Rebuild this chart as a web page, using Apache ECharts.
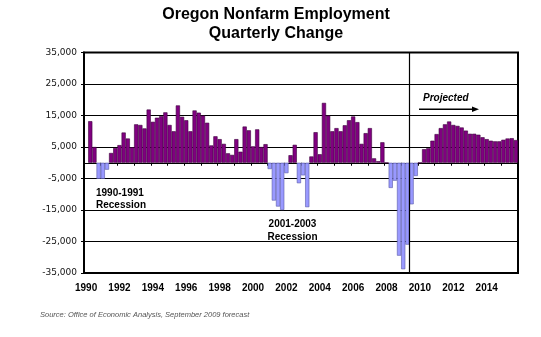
<!DOCTYPE html>
<html><head><meta charset="utf-8">
<script src="https://cdn.jsdelivr.net/npm/echarts@6/dist/echarts.min.js"></script>
<style>html,body{margin:0;padding:0;background:#fff}#c{width:541px;height:337px}</style>
</head><body><div id="c"></div>
<script>
// Categories: quarters 1990 Q1 .. 2015 Q4
const years = [1990,1991,1992,1993,1994,1995,1996,1997,1998,1999,2000,2001,2002,
               2003,2004,2005,2006,2007,2008,2009,2010,2011,2012,2013,2014,2015];
const quarters = ['Q1','Q2','Q3','Q4'];
const categories = [];
years.forEach(y => quarters.forEach(q => categories.push(y + ' ' + q)));

// Quarterly change in nonfarm employment (jobs)
const change1990s = [null,13200,5000,-5100, -5100,-2200,3100,4700, 5600,9600,7700,4900,
  12200,12000,10900,16900, 13000,14300,14800,16000, 12000,10000,18200,14600,
  13500,10000,16600,15900, 15000,12700,5500,8400, 7500,6000,3000,2500, 7500,3500,11500,10300];
const change2000s = [5200,10600,5000,5900, -2000,-12000,-13900,-15000, -3300,2400,5700,-6500,
  -4000,-14100,2000,9700, 2700,19000,15000,10000, 11000,10000,11900,13500,
  14700,12900,6000,9400, 11000,1400,500,6500, 0,-8000,-5700,-29500, -33800,-26000,-13200,-4200];
const change2010s = [0,4300,4600,7000, 9100,11000,12200,13100, 12000,11700,11200,10200,
  9200,9200,8900,8100, 7500,7000,6800,6800, 7300,7700,7800,7200];
const values = change1990s.concat(change2000s, change2010s);

const forecastStart = '2009 Q3';
const yMin = -35000, yMax = 35000, yStep = 10000;

const posColor = '#800080', posBorder = '#3d003d';
const negColor = '#9999ff', negBorder = '#5a5aa8';

const forecastIdx = categories.indexOf(forecastStart);

const chart = echarts.init(document.getElementById('c'), null, {renderer: 'canvas'});
chart.setOption({
  animation: false,
  backgroundColor: '#fff',
  grid: {left: 84, right: 23, top: 52.5, bottom: 64, show: true, borderColor: '#000', borderWidth: 2, backgroundColor: 'transparent'},
  xAxis: [{
    type: 'category', data: categories, position: 'bottom', boundaryGap: true,
    axisLine: {show: false, onZero: false},
    axisTick: {show: false},
    axisLabel: {interval: 7, margin: 10, color: '#000', fontFamily: 'Liberation Sans', fontWeight: 'bold', fontSize: 10,
      formatter: v => v.slice(0, 4)},
    splitLine: {show: false}
  }, {
    type: 'value', min: 0, max: categories.length, interval: 4, position: 'top',
    axisLine: {show: true, onZero: true, lineStyle: {color: '#000', width: 1}},
    axisTick: {show: true, inside: true, length: 3, lineStyle: {color: '#000', width: 1}},
    axisLabel: {show: false},
    splitLine: {show: false}
  }],
  yAxis: {
    type: 'value', min: yMin, max: yMax, interval: yStep,
    axisLine: {show: true, onZero: false, lineStyle: {color: '#000', width: 2}},
    axisTick: {show: true, length: 3, lineStyle: {color: '#000', width: 1}},
    axisLabel: {margin: 7, color: '#111', fontFamily: 'DejaVu Sans', fontSize: 9,
      formatter: v => v.toLocaleString('en-US')},
    splitLine: {show: true, lineStyle: {color: '#000', width: 1}}
  },
  series: [{
    type: 'bar', xAxisIndex: 0, barCategoryGap: '0%',
    data: values.map(v => v === null ? null : {
      value: v,
      itemStyle: {color: v < 0 ? negColor : posColor, borderColor: v < 0 ? negBorder : posBorder, borderWidth: 0.6}
    }),
    z: 2
  }, {
    type: 'line', xAxisIndex: 1, symbol: 'none', silent: true,
    data: [[forecastIdx, yMin], [forecastIdx, yMax]],
    lineStyle: {color: '#000', width: 1.2}, z: 5
  }],
  graphic: [
    {type: 'text', x: 276, y: 15, style: {text: 'Oregon Nonfarm Employment', font: 'bold 16px "Liberation Sans"', fill: '#000', textAlign: 'center', textVerticalAlign: 'middle'}},
    {type: 'text', x: 276, y: 34, style: {text: 'Quarterly Change', font: 'bold 16px "Liberation Sans"', fill: '#000', textAlign: 'center', textVerticalAlign: 'middle'}},
    {type: 'text', x: 96, y: 193, style: {text: '1990-1991', font: 'bold 10px "Liberation Sans"', fill: '#000', textAlign: 'left', textVerticalAlign: 'middle'}, z: 10},
    {type: 'text', x: 96, y: 205.5, style: {text: 'Recession', font: 'bold 10px "Liberation Sans"', fill: '#000', textAlign: 'left', textVerticalAlign: 'middle'}, z: 10},
    {type: 'text', x: 292.5, y: 224.5, style: {text: '2001-2003', font: 'bold 10px "Liberation Sans"', fill: '#000', textAlign: 'center', textVerticalAlign: 'middle'}, z: 10},
    {type: 'text', x: 292.5, y: 237.3, style: {text: 'Recession', font: 'bold 10px "Liberation Sans"', fill: '#000', textAlign: 'center', textVerticalAlign: 'middle'}, z: 10},
    {type: 'text', x: 423, y: 98.5, style: {text: 'Projected', font: 'italic bold 10px "Liberation Sans"', fill: '#000', textAlign: 'left', textVerticalAlign: 'middle'}, z: 10},
    {type: 'line', shape: {x1: 419, y1: 109.3, x2: 474, y2: 109.3}, style: {stroke: '#000', lineWidth: 1.5}, z: 10},
    {type: 'polygon', shape: {points: [[479, 109.3], [472, 106.6], [472, 112]]}, style: {fill: '#000'}, z: 10},
    {type: 'text', x: 40, y: 315, style: {text: 'Source: Office of Economic Analysis, September 2009 forecast', font: 'italic 7.5px "Liberation Sans"', fill: '#555', textAlign: 'left', textVerticalAlign: 'middle'}}
  ]
});
</script>
</body></html>
